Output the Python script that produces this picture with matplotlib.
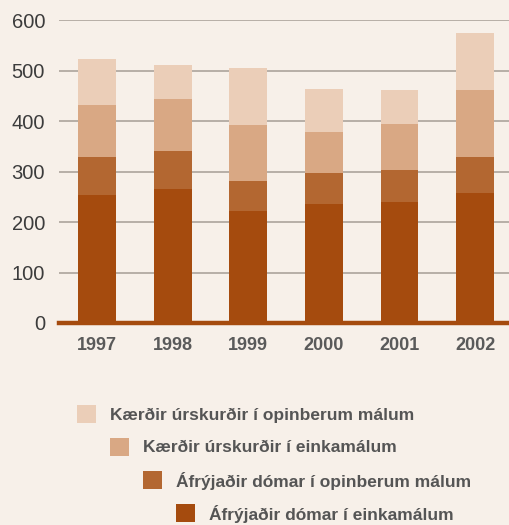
import matplotlib.pyplot as plt
import matplotlib.patches as mpatches
import numpy as np

# ─── data ────────────────────────────────────────────────────────────────────
years = ["1997", "1998", "1999", "2000", "2001", "2002"]
afryjadir_einka = [254, 266, 222, 236, 240, 258]
afryjadir_opinb = [76, 75, 59, 61, 63, 71]
kaerdir_einka = [102, 103, 111, 82, 91, 133]
kaerdir_opinb = [91, 67, 113, 85, 68, 113]

labels = [
    "Kærðir úrskurðir í opinberum málum",
    "Kærðir úrskurðir í einkamálum",
    "Áfrýjaðir dómar í opinberum málum",
    "Áfrýjaðir dómar í einkamálum",
]

BG = "#F7F0E9"
COLORS = ["#EBCEB8", "#D9A884", "#B36731", "#A54B0E"]  # top → bottom
GRID = "#A69D95"

plt.rcParams["font.family"] = ["Liberation Sans", "DejaVu Sans"]

fig = plt.figure(figsize=(5.1, 5.25), dpi=100)
fig.patch.set_facecolor(BG)
ax = fig.add_axes([59 / 510, 1 - 323 / 525, 1 - 59 / 510, (323 - 20.3) / 525])
ax.set_facecolor(BG)

x = np.arange(len(years))
series = [afryjadir_einka, afryjadir_opinb, kaerdir_einka, kaerdir_opinb]
series_colors = COLORS[::-1]
bottom = np.zeros(len(years))
for vals, col in zip(series, series_colors):
    ax.bar(x, vals, width=0.5, bottom=bottom, color=col, edgecolor="none", zorder=3)
    bottom += np.array(vals)

ax.set_ylim(0, 600)
ax.set_xlim(-0.503, 5.46)
ax.set_yticks(range(0, 601, 100))
ax.yaxis.grid(True, color=GRID, linewidth=1.1, zorder=1)
ax.set_axisbelow(True)
ax.axhline(0, color="#A54B0E", linewidth=3.2, zorder=4, clip_on=False)

for s in ax.spines.values():
    s.set_visible(False)
ax.tick_params(axis="y", length=0, pad=10, labelsize=14.5, labelcolor="#3C3C3C")
ax.tick_params(axis="x", length=0, pad=10)
ax.set_xticks(x)
ax.set_xticklabels(years, fontsize=13, fontweight="bold", color="#5A5A5A")

# stepped legend below the chart
for i, (lab, col) in enumerate(zip(labels, COLORS)):
    x0 = 77 + i * 33
    y0 = 405 + i * 33
    fig.patches.append(mpatches.Rectangle(
        (x0 / 510, 1 - (y0 + 18) / 525), 19 / 510, 18 / 525,
        transform=fig.transFigure, facecolor=col, edgecolor="none"))
    fig.text((x0 + 33) / 510, 1 - (y0 + 10) / 525, lab, fontsize=12.5,
             fontweight="bold", color="#555555", va="center", ha="left")

fig.savefig("out.png", dpi=100, facecolor=fig.get_facecolor())
